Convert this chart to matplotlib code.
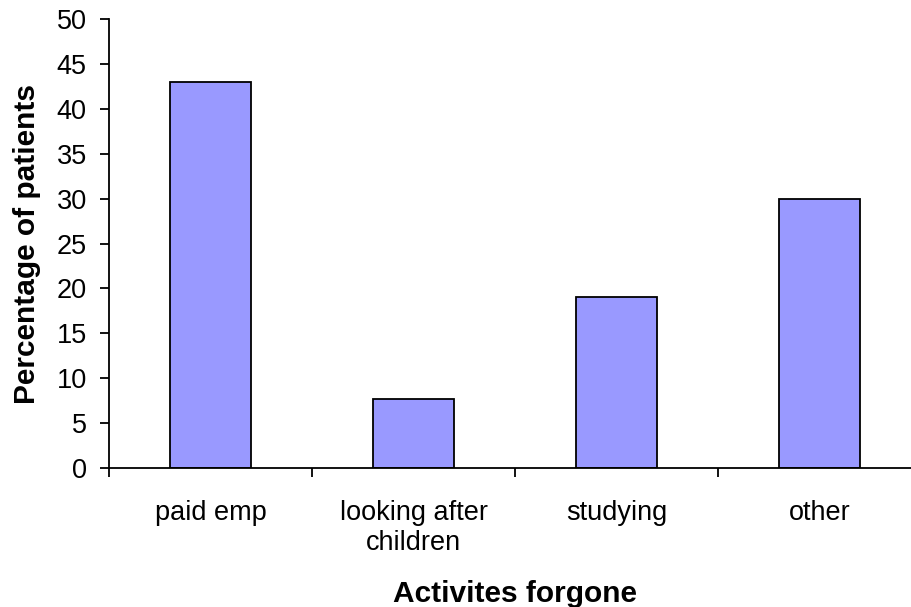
import numpy as np
import matplotlib.pyplot as plt

plt.rcParams['font.family'] = ['Liberation Sans', 'DejaVu Sans']

# data
categories = ['paid emp', 'looking after\nchildren', 'studying', 'other']
percentages = [43, 7.7, 19, 30]

W, H = 911, 607
fig = plt.figure(figsize=(W / 100, H / 100), dpi=100)
# plot area: left 109px, right runs past the image edge (921px), y from 19px to 468px
ax = fig.add_axes([109 / W, (H - 468) / H, (921 - 109) / W, (468 - 19) / H])

x = np.arange(len(categories))
ax.bar(x, percentages, width=0.4, color='#9999FF', edgecolor='black', linewidth=1.3)

ax.set_xlim(-0.5, len(categories) - 0.5)
ax.set_ylim(0, 50)
ax.set_yticks(np.arange(0, 51, 5))

# category boundary ticks, labels centred on the categories
ax.set_xticks(np.arange(len(categories) + 1) - 0.5)
ax.set_xticklabels([])
ax.set_xticks(x, minor=True)
ax.set_xticklabels(categories, minor=True)
ax.tick_params(axis='x', which='major', direction='out', length=6.5, width=1.3)
ax.tick_params(axis='x', which='minor', length=0, pad=23, labelsize=19.5)
ax.tick_params(axis='y', direction='out', length=6.5, width=1.3, pad=9.5, labelsize=19.5)

for side in ['top', 'right']:
    ax.spines[side].set_visible(False)
for side in ['left', 'bottom']:
    ax.spines[side].set_linewidth(1.3)

ax.set_xlabel('Activites forgone', fontsize=21.5, fontweight='bold', labelpad=17)
ax.set_ylabel('Percentage of patients', fontsize=21.5, fontweight='bold', labelpad=11)

fig.savefig('out.png', dpi=100)
